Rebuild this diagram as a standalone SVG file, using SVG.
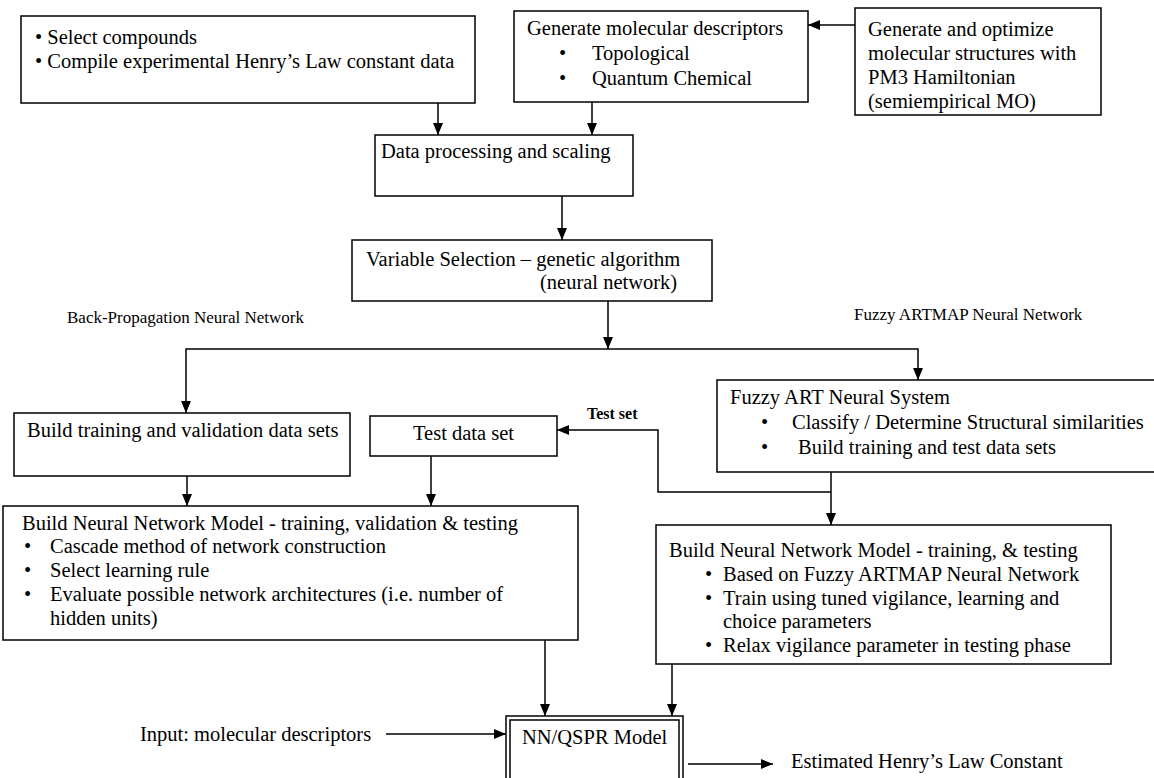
<svg xmlns="http://www.w3.org/2000/svg" width="1154" height="778" viewBox="0 0 1154 778">
<style>
.b{fill:#fff;stroke:#000;stroke-width:1.5}
.t{font-family:"Liberation Serif","Times New Roman",serif;font-size:20.5px;fill:#000}
.s{font-family:"Liberation Serif","Times New Roman",serif;font-size:17px;fill:#000}
.tb{font-family:"Liberation Serif","Times New Roman",serif;font-size:16px;font-weight:bold;fill:#000}
.c{fill:none;stroke:#000;stroke-width:1.5}
</style>
<defs>
<marker id="ah" markerWidth="12" markerHeight="10" refX="12" refY="5" orient="auto" markerUnits="userSpaceOnUse">
<path d="M0,0 L12,5 L0,10 Z" fill="#000"/>
</marker>
</defs>
<rect width="1154" height="778" fill="#fff"/>

<g id="n1"><rect class="b" x="21" y="16" width="454" height="87"/>
<text class="t" x="35" y="44">• Select compounds</text>
<text class="t" x="35" y="68">• Compile experimental Henry’s Law constant data</text></g>

<g id="n2"><rect class="b" x="514" y="11" width="294" height="91"/>
<text class="t" x="527" y="35">Generate molecular descriptors</text>
<text class="t" x="559" y="60">•</text><text class="t" x="592" y="60">Topological</text>
<text class="t" x="559" y="85">•</text><text class="t" x="592" y="85">Quantum Chemical</text></g>

<g id="n3"><rect class="b" x="855" y="8" width="246" height="107"/>
<text class="t" x="868" y="36">Generate and optimize</text>
<text class="t" x="868" y="60">molecular structures with</text>
<text class="t" x="868" y="84">PM3 Hamiltonian</text>
<text class="t" x="868" y="108">(semiempirical MO)</text></g>

<g id="n4"><rect class="b" x="375" y="135" width="258" height="61"/>
<text class="t" x="381" y="158">Data processing and scaling</text></g>

<g id="n5"><rect class="b" x="352" y="240" width="360" height="61"/>
<text class="t" x="366" y="266">Variable Selection – genetic algorithm</text>
<text class="t" x="540" y="289">(neural network)</text></g>

<g id="lbl1"><text class="s" x="67" y="323">Back-Propagation Neural Network</text></g>
<g id="lbl2"><text class="s" x="854" y="320">Fuzzy ARTMAP Neural Network</text></g>

<g id="n6"><rect class="b" x="14" y="413" width="336" height="63"/>
<text class="t" x="27" y="437">Build training and validation data sets</text></g>

<g id="n7"><rect class="b" x="370" y="416" width="187" height="40"/>
<text class="t" x="463.5" y="440" text-anchor="middle">Test data set</text></g>

<g id="n8"><rect class="b" x="717" y="380" width="460" height="92"/>
<text class="t" x="730" y="404">Fuzzy ART Neural System</text>
<text class="t" x="761" y="429">•</text><text class="t" x="792" y="429">Classify / Determine Structural similarities</text>
<text class="t" x="761" y="454">•</text><text class="t" x="798" y="454">Build training and test data sets</text></g>

<g id="n9"><rect class="b" x="3" y="506" width="575" height="134"/>
<text class="t" x="22" y="530">Build Neural Network Model -  training, validation &amp; testing</text>
<text class="t" x="24" y="553">•</text><text class="t" x="50" y="553">Cascade method of network construction</text>
<text class="t" x="24" y="577">•</text><text class="t" x="50" y="577">Select learning rule</text>
<text class="t" x="24" y="601">•</text><text class="t" x="50" y="601">Evaluate possible network architectures (i.e. number of</text>
<text class="t" x="50" y="625">hidden units)</text></g>

<g id="n10"><rect class="b" x="656" y="525" width="455" height="139"/>
<text class="t" x="669" y="557">Build Neural Network Model -  training, &amp; testing</text>
<text class="t" x="705" y="581">•</text><text class="t" x="723" y="581">Based on Fuzzy ARTMAP Neural Network</text>
<text class="t" x="705" y="605">•</text><text class="t" x="723" y="605">Train using tuned vigilance, learning and</text>
<text class="t" x="723" y="628">choice parameters</text>
<text class="t" x="705" y="652">•</text><text class="t" x="723" y="652">Relax vigilance parameter in testing phase</text></g>

<g id="n11"><rect class="b" x="506" y="716" width="177" height="70"/>
<rect class="b" x="510" y="720" width="169" height="70" style="fill:none"/>
<text class="t" x="522" y="744">NN/QSPR Model</text></g>

<g id="in"><text class="t" x="140" y="741">Input: molecular descriptors</text></g>
<g id="out"><text class="t" x="791" y="768">Estimated Henry’s Law Constant</text></g>

<g id="connectors">
<line class="c" x1="855" y1="25" x2="808" y2="25" marker-end="url(#ah)"/>
<line class="c" x1="438" y1="103" x2="438" y2="135" marker-end="url(#ah)"/>
<line class="c" x1="592" y1="102" x2="592" y2="135" marker-end="url(#ah)"/>
<line class="c" x1="562" y1="196" x2="562" y2="240" marker-end="url(#ah)"/>
<line class="c" x1="608" y1="301" x2="608" y2="349" marker-end="url(#ah)"/>
<polyline class="c" points="608,349 186,349 186,413" marker-end="url(#ah)"/>
<polyline class="c" points="608,349 918,349 918,380" marker-end="url(#ah)"/>
<line class="c" x1="187" y1="476" x2="187" y2="506" marker-end="url(#ah)"/>
<line class="c" x1="431" y1="456" x2="431" y2="506" marker-end="url(#ah)"/>
<line class="c" x1="831" y1="472" x2="831" y2="525" marker-end="url(#ah)"/>
<polyline class="c" points="831,492 658,492 658,430 557,430" marker-end="url(#ah)"/>
<text class="tb" x="587" y="419">Test set</text>
<line class="c" x1="545" y1="640" x2="545" y2="716" marker-end="url(#ah)"/>
<line class="c" x1="672" y1="664" x2="672" y2="716" marker-end="url(#ah)"/>
<line class="c" x1="386" y1="734" x2="506" y2="734" marker-end="url(#ah)"/>
<line class="c" x1="688" y1="764" x2="773" y2="764" marker-end="url(#ah)"/>
</g>
</svg>
